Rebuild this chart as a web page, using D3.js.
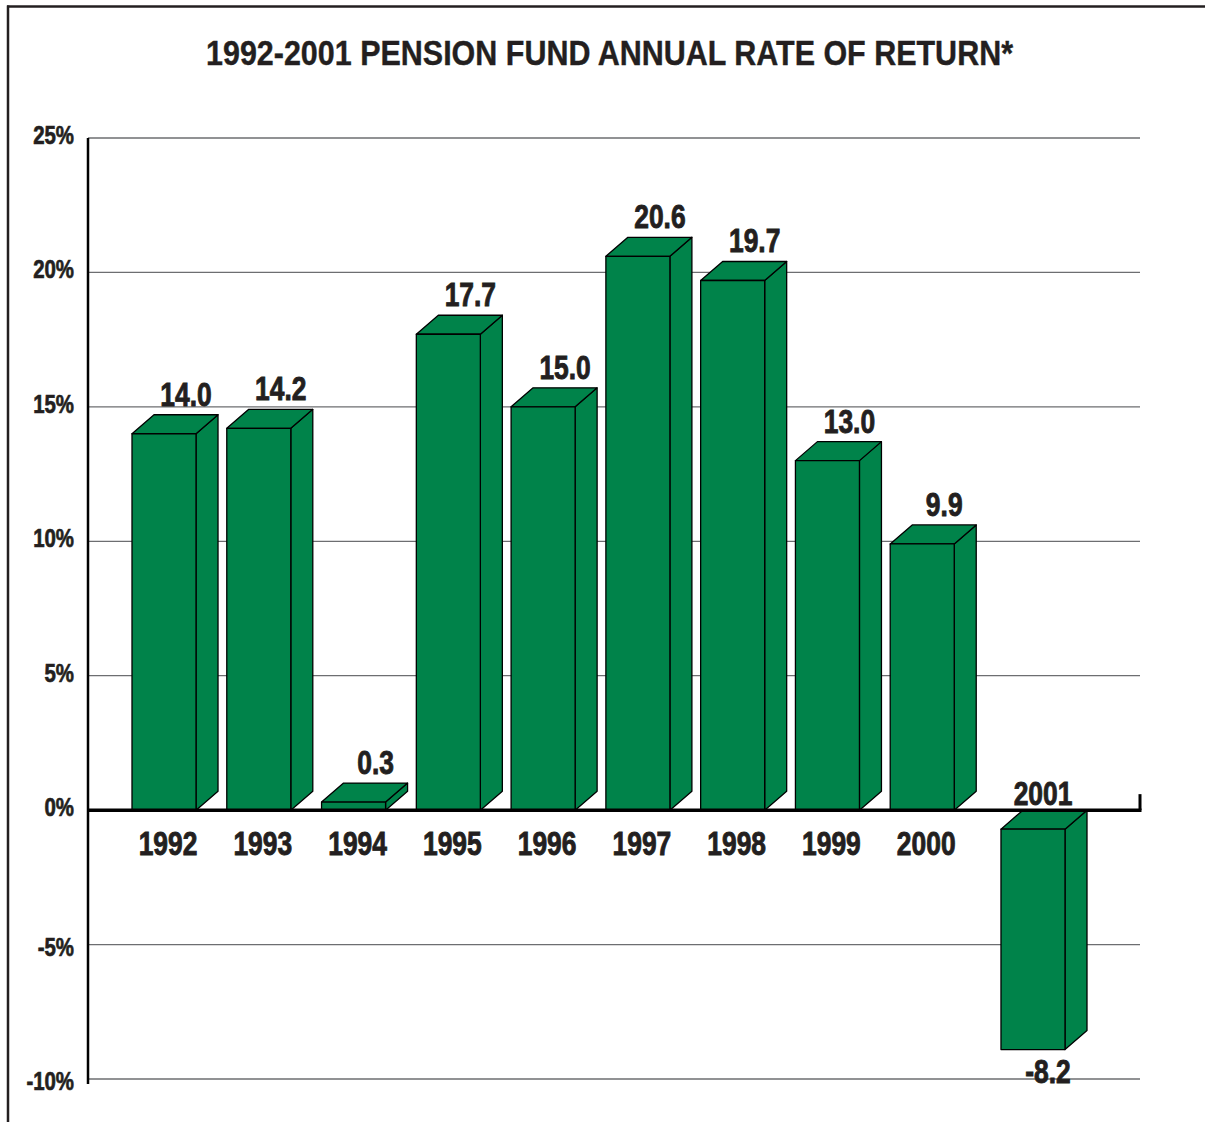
<!DOCTYPE html>
<html><head><meta charset="utf-8">
<script src="https://cdn.jsdelivr.net/npm/d3@7"></script>
<style>body{margin:0;background:#fff} svg{display:block}</style>
</head><body><svg id="c" width="1205" height="1122"></svg>
<script>
const years = ["1992","1993","1994","1995","1996","1997","1998","1999","2000","2001"];
const returns = [14.0, 14.2, 0.3, 17.7, 15.0, 20.6, 19.7, 13.0, 9.9, -8.2];
const valueLabels = ["14.0","14.2","0.3","17.7","15.0","20.6","19.7","13.0","9.9","-8.2"];
const yTicks = [-10, -5, 0, 5, 10, 15, 20, 25];
const tickLabels = ["-10%","-5%","0%","5%","10%","15%","20%","25%"];
const title = "1992-2001 PENSION FUND ANNUAL RATE OF RETURN*";

const svg = d3.select("#c");
const ink = "#231f20", green = "#00834a";
const font = "'Liberation Sans', Arial, sans-serif";
const axisLeft = 88, axisRight = 1140;
const y = d3.scaleLinear().domain([-10, 25]).range([1079, 138]);
const x = d3.scaleBand().domain(years).range([132, 1049]).paddingInner(0.3245).paddingOuter(0);
const w = x.bandwidth();
const dx = 22, dy = 19, negShift = 16;
const y0 = y(0);

// frame
svg.append("line").attr("x1", 7).attr("x2", 1205).attr("y1", 6.5).attr("y2", 6.5)
  .attr("stroke", ink).attr("stroke-width", 2.5);
svg.append("line").attr("x1", 8).attr("x2", 8).attr("y1", 5.5).attr("y2", 1122)
  .attr("stroke", ink).attr("stroke-width", 2.5);

// title
svg.append("text").attr("x", 609.5).attr("y", 65).attr("text-anchor", "middle")
  .attr("font-family", font).attr("font-weight", "bold").attr("font-size", 35)
  .attr("textLength", 807).attr("lengthAdjust", "spacingAndGlyphs")
  .attr("fill", ink).attr("stroke", ink).attr("stroke-width", 0.4).text(title);

// gridlines
svg.append("g").selectAll("line").data(yTicks.filter(t => t !== 0)).join("line")
  .attr("x1", axisLeft).attr("x2", axisRight)
  .attr("y1", d => y(d)).attr("y2", d => y(d))
  .attr("stroke", "#6d6e71").attr("stroke-width", 1.3);

// y tick labels
svg.append("g").selectAll("g").data(yTicks).join("g")
  .attr("transform", d => `translate(74,${y(d) + (d < 0 ? 11 : 6)}) scale(0.8,1)`)
  .append("text").attr("text-anchor", "end")
  .attr("font-family", font).attr("font-weight", "bold").attr("font-size", 25.5)
  .attr("fill", ink).attr("stroke", ink).attr("stroke-width", 0.7).text((d, i) => tickLabels[i]);

// bars
const data = years.map((yr, i) => ({ year: yr, value: returns[i], label: valueLabels[i] }));
const bars = svg.append("g").selectAll("g").data(data).join("g");
bars.each(function(d) {
  const g = d3.select(this);
  const x0 = x(d.year) + (d.value < 0 ? negShift : 0), x1 = x0 + w;
  let ft, fb;
  if (d.value >= 0) { ft = y(d.value); fb = y0; }
  else { ft = y0 + dy; fb = y(d.value) + dy; }
  const st = { fill: green, stroke: "#000", "stroke-width": 1.3, "stroke-linejoin": "round" };
  const poly = pts => { const p = g.append("polygon").attr("points", pts.map(q => q.join(",")).join(" "));
    Object.entries(st).forEach(([k, v]) => p.attr(k, v)); };
  poly([[x1, fb], [x1, ft], [x1 + dx, ft - dy], [x1 + dx, fb - dy]]);
  poly([[x0, ft], [x0 + dx, ft - dy], [x1 + dx, ft - dy], [x1, ft]]);
  poly([[x0, ft], [x1, ft], [x1, fb], [x0, fb]]);
  d.cx = (x0 + x1) / 2; d.ft = ft; d.fb = fb;
});

// zero line and axis
svg.append("line").attr("x1", axisLeft).attr("x2", axisRight + 1.5).attr("y1", y0).attr("y2", y0)
  .attr("stroke", "#000").attr("stroke-width", 3.5);
svg.append("line").attr("x1", axisRight).attr("x2", axisRight).attr("y1", y0).attr("y2", y0 - 16)
  .attr("stroke", "#000").attr("stroke-width", 3);
svg.append("line").attr("x1", axisLeft).attr("x2", axisLeft).attr("y1", y(25)).attr("y2", y(-10) + 5)
  .attr("stroke", "#000").attr("stroke-width", 2.5);

// value labels
svg.append("g").selectAll("g").data(data).join("g")
  .attr("transform", d => d.value >= 0
    ? `translate(${d.cx + 22},${d.ft - dy - 9}) scale(0.8,1)`
    : `translate(${d.cx + 15},${d.fb + 33}) scale(0.8,1)`)
  .append("text").attr("text-anchor", "middle")
  .attr("font-family", font).attr("font-weight", "bold").attr("font-size", 33)
  .attr("fill", ink).attr("stroke", ink).attr("stroke-width", 0.9).text(d => d.label);

// year labels
svg.append("g").selectAll("g").data(data).join("g")
  .attr("transform", d => d.value >= 0
    ? `translate(${d.cx + 4},${y0 + 45}) scale(0.8,1)`
    : `translate(${d.cx + 10},${y0 - 5}) scale(0.8,1)`)
  .append("text").attr("text-anchor", "middle")
  .attr("font-family", font).attr("font-weight", "bold").attr("font-size", 33)
  .attr("fill", ink).attr("stroke", ink).attr("stroke-width", 0.9).text(d => d.year);
</script></body></html>
